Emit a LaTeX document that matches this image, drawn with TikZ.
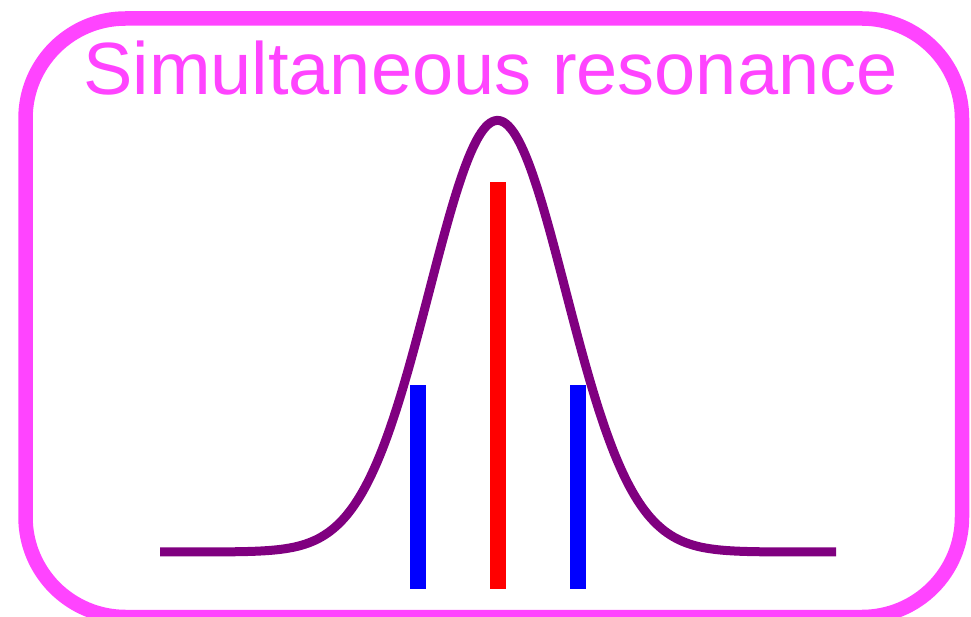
\documentclass[tikz,border=0pt]{standalone}
\usepackage{fontspec}
\setmainfont{Liberation Sans}
\definecolor{framepink}{RGB}{255,68,255}
\definecolor{curvepurple}{RGB}{128,0,128}
\begin{document}
\begin{tikzpicture}[x=1pt,y=-1pt,
  frame/.style={draw=framepink,line width=14.5pt,rounded corners=100pt},
  curve/.style={draw=curvepurple,line width=9pt,line join=round},
  redbar/.style={fill=red},
  bluebar/.style={fill=blue},
  title/.style={text=framepink,font=\fontsize{74}{80}\selectfont,inner sep=0pt,anchor=base}]
\useasboundingbox (0,0) rectangle (971,617);
\draw[frame] (25.5,18.5) rectangle (962,617);
\node[title] (title) at (490.5,95) {Simultaneous resonance};
\fill[bluebar] (410,385) rectangle (426,589);
\fill[bluebar] (570,385) rectangle (586,589);
\fill[redbar] (490,182) rectangle (506,589);
\draw[curve] plot[domain=160:836,samples=300,smooth] (\x,{552-431.5*exp(-0.5*((\x-497.5)/68)^2)});
\end{tikzpicture}
\end{document}
